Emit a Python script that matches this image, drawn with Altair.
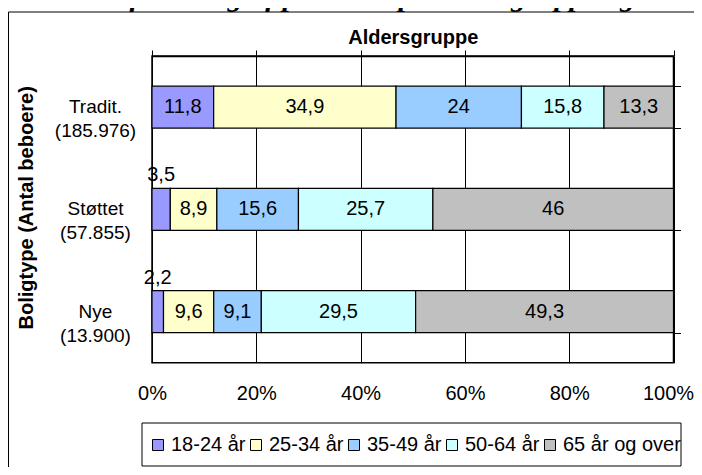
import altair as alt
import pandas as pd

# ---- data ----
boligtyper = ["Tradit.", "Støttet", "Nye"]
beboere = ["185.976", "57.855", "13.900"]
aldersgrupper = ["18-24 år", "25-34 år", "35-49 år", "50-64 år", "65 år og over"]
tradit = [11.8, 34.9, 24, 15.8, 13.3]
stottet = [3.5, 8.9, 15.6, 25.7, 46]
nye = [2.2, 9.6, 9.1, 29.5, 49.3]
farver = ["#9999FF", "#FFFFCC", "#99CCFF", "#CCFFFF", "#C0C0C0"]
procent_ticks = [0, 0.2, 0.4, 0.6, 0.8, 1.0]
titel = "Procentvis fordeling af personer på aldersgruppe og andel"

kategorier = [f"{b}\n({n})" for b, n in zip(boligtyper, beboere)]
rows = []
for kat, vals in zip(kategorier, [tradit, stottet, nye]):
    for i, (a, v) in enumerate(zip(aldersgrupper, vals)):
        rows.append({"bolig": kat, "alder": a, "rang": i, "andel": v,
                     "tekst": f"{v:g}".replace(".", ",")})
df = pd.DataFrame(rows)

TOTAL_W = 686
TOTAL_H = 459
PAD_L = 144
PAD_T = 48
W = 521.5
H = 306.7
SANS = "Liberation Sans"

xscale = alt.Scale(domain=[0, 1], nice=False, zero=True)
yscale = alt.Scale(domain=kategorier, paddingInner=0.59, paddingOuter=0.295)

base = (
    alt.Chart(df)
    .transform_joinaggregate(total="sum(andel)", groupby=["bolig"])
    .transform_window(cum="sum(andel)", sort=[alt.SortField("rang")],
                      groupby=["bolig"], frame=[None, 0])
    .transform_calculate(
        start="(datum.cum - datum.andel) / datum.total",
        end="datum.cum / datum.total",
        mid="(datum.cum - datum.andel / 2) / datum.total",
    )
)

bars = base.mark_bar(stroke="black", strokeWidth=1.2).encode(
    x=alt.X("start:Q", scale=xscale, axis=alt.Axis(
        orient="top", values=procent_ticks, labels=False,
        ticks=True, tickSize=6, tickColor="black", tickWidth=1,
        domain=True, domainColor="black", domainWidth=1.5,
        grid=True, gridColor="black", gridWidth=1, gridOpacity=1,
        title="Aldersgruppe", titleFont=SANS, titleFontSize=20,
        titleFontWeight="bold", titleColor="black",
        titleBaseline="alphabetic", titleAlign="center",
        titleX=W / 2, titleY=-12.7)),
    x2="end:Q",
    y=alt.Y("bolig:N", scale=yscale, axis=alt.Axis(
        orient="left", ticks=False, tickSize=0, domain=False, grid=False,
        labelExpr="split(datum.label, '\\n')",
        labelFont=SANS, labelFontSize=19, labelColor="black",
        labelAlign="center", labelBaseline="middle", labelPadding=57,
        labelLineHeight=24,
        title="Boligtype (Antal beboere)", titleFont=SANS, titleFontSize=20,
        titleFontWeight="bold", titleColor="black", titleAngle=270,
        titleAlign="center", titleBaseline="middle",
        titleX=-125.5, titleY=H / 2 - 2)),
    color=alt.Color("alder:N", scale=alt.Scale(domain=aldersgrupper, range=farver),
                    legend=alt.Legend(
                        orient="none", legendX=-4, legendY=379,
                        direction="horizontal", title=None,
                        labelFont=SANS, labelFontSize=20, labelColor="black",
                        symbolType="square", symbolSize=121,
                        symbolStrokeColor="black", symbolStrokeWidth=1,
                        labelOffset=3, columnPadding=0, padding=0)),
)

inde = base.transform_filter("datum.andel >= 5").mark_text(
    font=SANS, fontSize=20, color="black", align="center", baseline="middle"
).encode(
    x=alt.X("mid:Q", scale=xscale, axis=alt.Axis(
        orient="bottom", values=procent_ticks, format=".0%",
        labelFont=SANS, labelFontSize=20, labelColor="black",
        labelFlush=False, labelOverlap=False, labelPadding=37,
        labelOffset={"condition": {"test": "datum.value === 1", "value": -5.5}, "value": 0},
        labelBaseline="alphabetic", ticks=False, tickSize=0,
        domain=False, grid=False, title=None)),
    y=alt.Y("bolig:N", scale=yscale, axis=alt.Axis(
        orient="right", labels=False, domain=False, grid=False,
        ticks=True, tickSize=7, tickColor="black", tickWidth=1,
        tickBand="extent", title=None)),
    text="tekst:N",
)

over = base.transform_filter("datum.andel < 5").mark_text(
    font=SANS, fontSize=20, color="black", align="center", baseline="middle", dy=-34
).encode(
    x=alt.X("mid:Q", scale=xscale, axis=None),
    y=alt.Y("bolig:N", scale=yscale, axis=None),
    text="tekst:N",
)

deco = pd.DataFrame({"n": [0]})
# outer chart frame: only its left and top edges fall inside the picture
ramme_v = alt.Chart(deco).mark_rule(color="black", strokeWidth=1).encode(
    x=alt.value(-PAD_L + 0.5), y=alt.value(-PAD_T + 4), y2=alt.value(430))
ramme_h = alt.Chart(deco).mark_rule(color="black", strokeWidth=1).encode(
    x=alt.value(-PAD_L + 0.5), x2=alt.value(TOTAL_W - PAD_L + 10), y=alt.value(-PAD_T + 4))
legendeboks = alt.Chart(deco).mark_rect(fillOpacity=0, stroke="black", strokeWidth=1).encode(
    x=alt.value(-10), x2=alt.value(529), y=alt.value(367), y2=alt.value(410))
overskrift = alt.Chart(deco).mark_text(
    text=titel, font="Liberation Serif", fontSize=30, fontWeight="bold",
    fontStyle="italic", align="left", baseline="alphabetic", color="black"
).encode(x=alt.value(-160), y=alt.value(-50))

chart = (
    alt.layer(ramme_v, ramme_h, legendeboks, overskrift, bars, inde, over)
    .resolve_axis(x="independent", y="independent")
    .properties(
        width=W, height=H,
        autosize=alt.AutoSizeParams(type="none"),
        padding={"left": PAD_L, "top": PAD_T,
                 "right": TOTAL_W - PAD_L - W, "bottom": TOTAL_H - PAD_T - H},
        background="white",
    )
    .configure(font=SANS)
    .configure_view(stroke="black", strokeWidth=1.5, fill="white")
)

chart.save("out.html", embed_options={"renderer": "svg", "actions": False})
